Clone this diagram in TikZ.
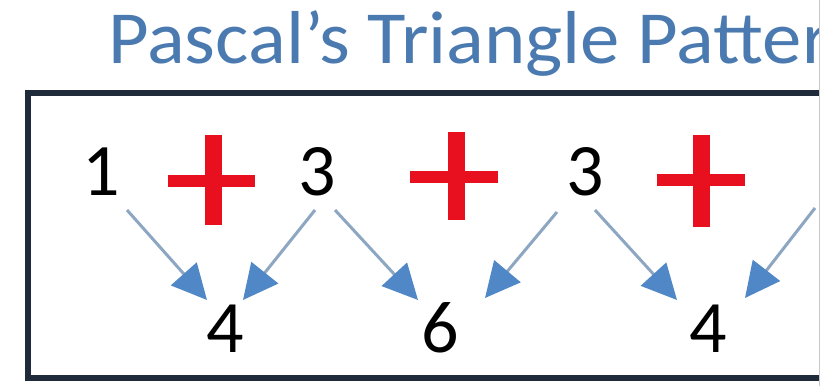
\documentclass[tikz,border=0pt]{standalone}
\usepackage{fontspec}
\setmainfont{Carlito}
\newfontfamily\titlefont[FakeStretch=1.05]{Carlito}
\usetikzlibrary{arrows.meta}
\definecolor{titleblue}{HTML}{4A7AB0}
\definecolor{boxnavy}{HTML}{1F2B3A}
\definecolor{plusred}{HTML}{E8101E}
\definecolor{shaftblue}{HTML}{8DA6C2}
\definecolor{headblue}{HTML}{4F87C7}
\definecolor{edgegray}{HTML}{C8C8C8}
\tikzset{
  titletext/.style={anchor=base west, inner sep=0pt, text=titleblue, font=\titlefont\fontsize{75}{80}\selectfont},
  digit/.style={anchor=base, inner sep=0pt, text=black, font=\fontsize{74}{80}\selectfont},
  frame/.style={draw=boxnavy, line width=6pt},
  plusbar/.style={draw=plusred, line width=#1},
  arr/.style={draw=shaftblue, line width=3pt, -{Triangle[length=35pt,width=34pt,color=headblue]}},
}
\begin{document}
\begin{tikzpicture}[x=1pt,y=-1pt]
\useasboundingbox (0,0) rectangle (839,386);
\fill[white] (0,0) rectangle (839,386);
\begin{scope}
\clip (0,0) rectangle (819,386);
\node[titletext] (title) at (108,63) {Pascal’s Triangle Patter};
\draw[frame] (28,93) rectangle (840,378);
% plus signs
\draw[plusbar=12pt] (168,181) -- (255,181);
\draw[plusbar=17pt] (213.5,135) -- (213.5,225);
\draw[plusbar=12pt] (410,177) -- (498,177);
\draw[plusbar=17pt] (456.5,132) -- (456.5,220);
\draw[plusbar=12pt] (657,180) -- (745,180);
\draw[plusbar=17pt] (701.5,135) -- (701.5,227);
% numbers
\node[digit] (t1) at (101,195) {1};
\node[digit] (t2) at (317,195) {3};
\node[digit] (t3) at (585,195) {3};
\node[digit] (b1) at (225,352) {4};
\node[digit] (b2) at (440,352) {6};
\node[digit] (b3) at (708,352) {4};
\coordinate (r) at (815,208);
% arrows
\draw[arr] ([shift={(26,15)}]t1.base) -- ([shift={(-18,-52)}]b1.base);
\draw[arr] ([shift={(-2,15)}]t2.base) -- ([shift={(18,-52)}]b1.base);
\draw[arr] ([shift={(18,15)}]t2.base) -- ([shift={(-22,-52)}]b2.base);
\draw[arr] ([shift={(-28,17)}]t3.base) -- ([shift={(45,-54)}]b2.base);
\draw[arr] ([shift={(10,15)}]t3.base) -- ([shift={(-31,-52)}]b3.base);
\draw[arr] (r) -- ([shift={(37,-54)}]b3.base);
\end{scope}
\draw[edgegray, line width=1pt] (819.5,0) -- (819.5,386);
\end{tikzpicture}
\end{document}
